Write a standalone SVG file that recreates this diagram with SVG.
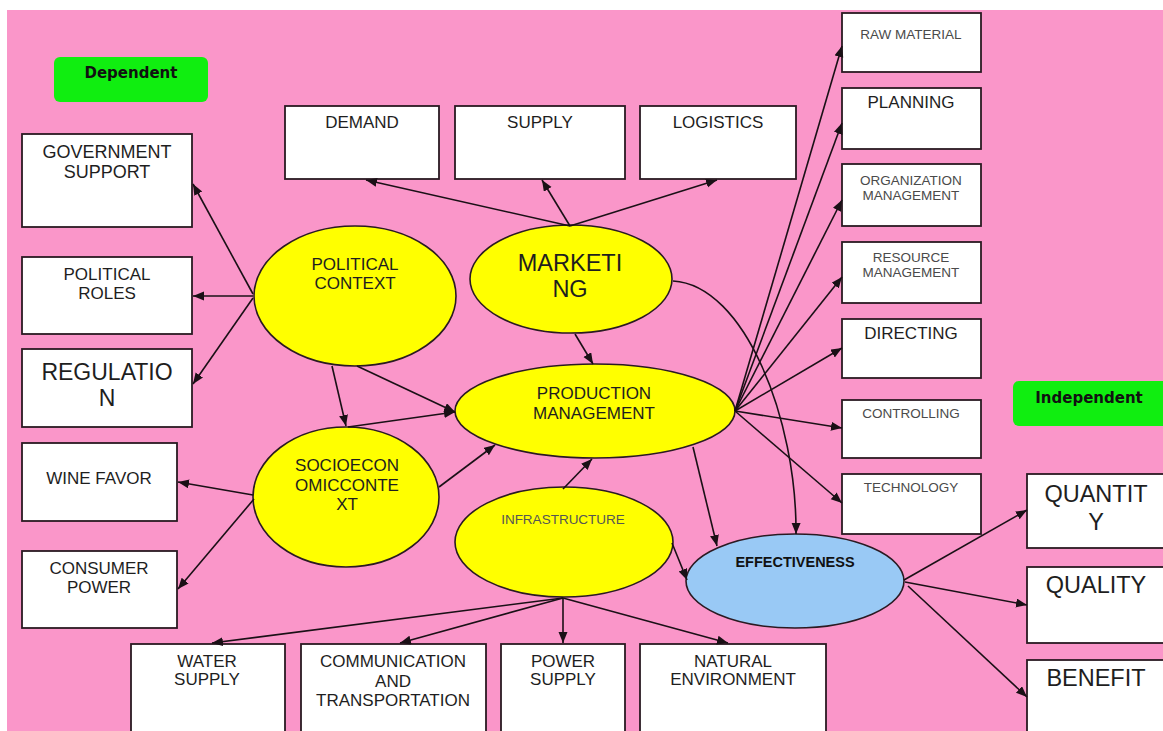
<svg xmlns="http://www.w3.org/2000/svg" width="1163" height="731" viewBox="0 0 1163 731">
<style>
.bg{fill:#FA96C9}
.box{fill:#FFFFFF;stroke:#2a1a22;stroke-width:1.8}
.ell{fill:#FFFF00;stroke:#2a1a22;stroke-width:1.6}
.eff{fill:#99C9F5;stroke:#2a1a22;stroke-width:1.6}
.tag{fill:#10EE10}
.t{font-family:"Liberation Sans",Arial,sans-serif;font-size:17px;fill:#1e1e1e;text-anchor:middle}
.s{font-size:13.5px;fill:#4a4a4a}
.b{font-size:23.5px}
.lbl{font-family:"DejaVu Sans",Verdana,sans-serif;font-weight:bold;font-size:15px;fill:#111;text-anchor:middle}
.c line,.c path{stroke:#1a1016;stroke-width:1.6;fill:none;marker-end:url(#ah)}
</style>
<defs>
<marker id="ah" markerUnits="userSpaceOnUse" markerWidth="12" markerHeight="10" refX="11" refY="4.5" orient="auto">
<path d="M0,0 L11,4.5 L0,9 Z" fill="#1a1016"/>
</marker>
</defs>
<rect x="0" y="0" width="1163" height="731" fill="#FFFFFF"/>
<rect class="bg" x="7" y="10" width="1156" height="721"/>

<g id="dependent"><rect class="tag" x="54" y="57" width="154" height="45" rx="6"/><text class="lbl" x="131" y="78">Dependent</text></g>
<g id="independent"><rect class="tag" x="1013" y="381" width="160" height="45" rx="6"/><text class="lbl" x="1089" y="403">Independent</text></g>

<g id="gov-support"><rect class="box" x="22" y="134" width="170" height="93"/><text class="t" x="107" y="158" style="font-size:18px">GOVERNMENT</text><text class="t" x="107" y="178" style="font-size:18px">SUPPORT</text></g>
<g id="political-roles"><rect class="box" x="22" y="257" width="170" height="77"/><text class="t" x="107" y="280">POLITICAL</text><text class="t" x="107" y="299">ROLES</text></g>
<g id="regulation"><rect class="box" x="22" y="349" width="170" height="78"/><text class="t b" x="107" y="380" style="font-size:23px">REGULATIO</text><text class="t b" x="107" y="406" style="font-size:23px">N</text></g>
<g id="wine-favor"><rect class="box" x="22" y="443" width="155" height="78"/><text class="t" x="99" y="484">WINE FAVOR</text></g>
<g id="consumer-power"><rect class="box" x="22" y="551" width="155" height="77"/><text class="t" x="99" y="574">CONSUMER</text><text class="t" x="99" y="593">POWER</text></g>

<g id="demand"><rect class="box" x="285" y="106" width="154" height="73"/><text class="t" x="362" y="128">DEMAND</text></g>
<g id="supply"><rect class="box" x="455" y="106" width="170" height="73"/><text class="t" x="540" y="128">SUPPLY</text></g>
<g id="logistics"><rect class="box" x="640" y="106" width="156" height="73"/><text class="t" x="718" y="128">LOGISTICS</text></g>

<g id="raw-material"><rect class="box" x="842" y="13" width="139" height="59"/><text class="t s" x="911" y="39">RAW MATERIAL</text></g>
<g id="planning"><rect class="box" x="842" y="88" width="139" height="61"/><text class="t" x="911" y="108">PLANNING</text></g>
<g id="org-management"><rect class="box" x="842" y="164" width="139" height="62"/><text class="t s" x="911" y="185">ORGANIZATION</text><text class="t s" x="911" y="200">MANAGEMENT</text></g>
<g id="resource-management"><rect class="box" x="842" y="242" width="139" height="61"/><text class="t s" x="911" y="262">RESOURCE</text><text class="t s" x="911" y="277">MANAGEMENT</text></g>
<g id="directing"><rect class="box" x="842" y="319" width="139" height="59"/><text class="t" x="911" y="339">DIRECTING</text></g>
<g id="controlling"><rect class="box" x="842" y="400" width="139" height="58"/><text class="t s" x="911" y="418">CONTROLLING</text></g>
<g id="technology"><rect class="box" x="842" y="474" width="139" height="60"/><text class="t s" x="911" y="492">TECHNOLOGY</text></g>

<g id="quantity"><rect class="box" x="1027" y="474" width="145" height="74"/><text class="t b" x="1096" y="502">QUANTIT</text><text class="t b" x="1096" y="530">Y</text></g>
<g id="quality"><rect class="box" x="1027" y="567" width="145" height="76"/><text class="t b" x="1096" y="593">QUALITY</text></g>
<g id="benefit"><rect class="box" x="1027" y="660" width="145" height="80"/><text class="t b" x="1096" y="686">BENEFIT</text></g>

<g id="water-supply"><rect class="box" x="131" y="644" width="154" height="95"/><text class="t" x="207" y="667">WATER</text><text class="t" x="207" y="685">SUPPLY</text></g>
<g id="comm-transport"><rect class="box" x="301" y="644" width="185" height="95"/><text class="t" x="393" y="667">COMMUNICATION</text><text class="t" x="393" y="687">AND</text><text class="t" x="393" y="706">TRANSPORTATION</text></g>
<g id="power-supply"><rect class="box" x="501" y="644" width="124" height="95"/><text class="t" x="563" y="667">POWER</text><text class="t" x="563" y="685">SUPPLY</text></g>
<g id="natural-environment"><rect class="box" x="640" y="644" width="186" height="95"/><text class="t" x="733" y="667">NATURAL</text><text class="t" x="733" y="685">ENVIRONMENT</text></g>

<g id="political-context"><ellipse class="ell" cx="355" cy="296" rx="101" ry="70"/><text class="t" x="355" y="270">POLITICAL</text><text class="t" x="355" y="289">CONTEXT</text></g>
<g id="marketing"><ellipse class="ell" cx="571" cy="279" rx="101" ry="54"/><text class="t b" x="570" y="271">MARKETI</text><text class="t b" x="570" y="297">NG</text></g>
<g id="production-management"><ellipse class="ell" cx="595" cy="411" rx="140" ry="47"/><text class="t" x="594" y="399">PRODUCTION</text><text class="t" x="594" y="419">MANAGEMENT</text></g>
<g id="socioeconomic-context"><ellipse class="ell" cx="346" cy="497" rx="93" ry="70"/><text class="t" x="347" y="471">SOCIOECON</text><text class="t" x="347" y="491">OMICCONTE</text><text class="t" x="347" y="510">XT</text></g>
<g id="infrastructure"><ellipse class="ell" cx="564" cy="542" rx="109" ry="55"/><text class="t s" x="563" y="524" style="fill:#555">INFRASTRUCTURE</text></g>
<g id="effectiveness"><ellipse class="eff" cx="795" cy="581" rx="109" ry="47"/><text class="t" x="795" y="567" style="font-size:14.5px;font-weight:bold;fill:#111">EFFECTIVENESS</text></g>

<g id="connectors" class="c">
<line x1="253" y1="294" x2="193" y2="184"/>
<line x1="253" y1="296" x2="193" y2="296"/>
<line x1="253" y1="298" x2="193" y2="384"/>
<line x1="332" y1="366" x2="346" y2="426"/>
<line x1="357" y1="366" x2="455" y2="412"/>
<line x1="348" y1="427" x2="455" y2="412"/>
<line x1="439" y1="487" x2="495" y2="445"/>
<line x1="253" y1="495" x2="178" y2="482"/>
<line x1="254" y1="499" x2="178" y2="589"/>
<line x1="570" y1="226" x2="366" y2="180"/>
<line x1="570" y1="226" x2="542" y2="180"/>
<line x1="570" y1="226" x2="717" y2="180"/>
<line x1="575" y1="334" x2="593" y2="364"/>
<path d="M673,281 C745,285 797,420 796,534"/>
<line x1="735" y1="411" x2="842" y2="46"/>
<line x1="735" y1="411" x2="842" y2="123"/>
<line x1="735" y1="411" x2="842" y2="200"/>
<line x1="735" y1="411" x2="842" y2="277"/>
<line x1="735" y1="411" x2="842" y2="348"/>
<line x1="735" y1="411" x2="842" y2="428"/>
<line x1="735" y1="411" x2="842" y2="503"/>
<line x1="693" y1="447" x2="717" y2="546"/>
<line x1="563" y1="489" x2="592" y2="459"/>
<line x1="672" y1="543" x2="687" y2="580"/>
<line x1="563" y1="598" x2="212" y2="643"/>
<line x1="563" y1="598" x2="400" y2="643"/>
<line x1="563" y1="598" x2="563" y2="643"/>
<line x1="563" y1="598" x2="728" y2="643"/>
<line x1="904" y1="580" x2="1027" y2="510"/>
<line x1="905" y1="582" x2="1027" y2="605"/>
<line x1="908" y1="586" x2="1027" y2="697"/>
</g>
</svg>
